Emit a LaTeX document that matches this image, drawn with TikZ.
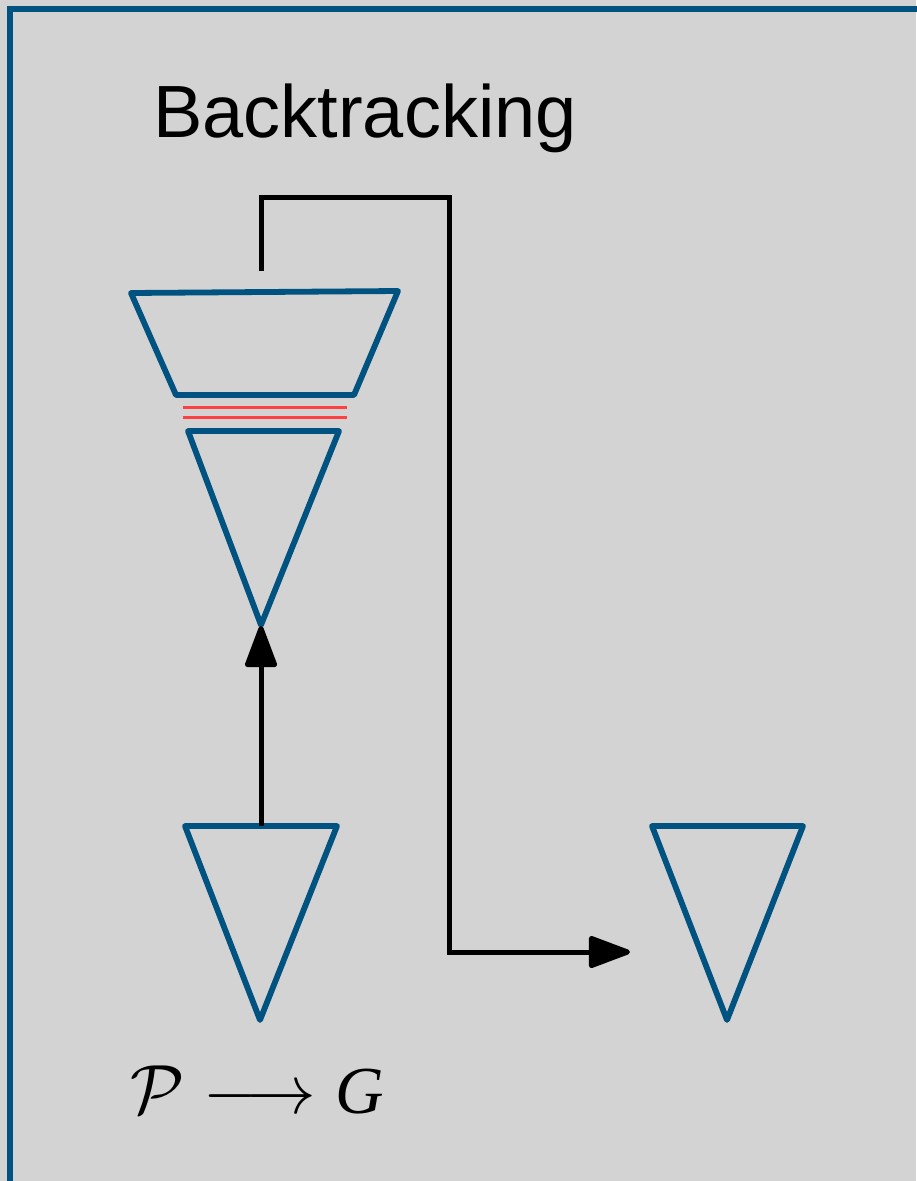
\documentclass[tikz,border=0pt]{standalone}
\usepackage{fontspec}
\setsansfont{Liberation Sans}
\newfontfamily\timeslike{Liberation Serif}
\usetikzlibrary{arrows.meta}
\definecolor{bg}{RGB}{211,211,211}
\definecolor{frameblue}{RGB}{0,82,128}
\definecolor{sepred}{RGB}{255,64,64}
\tikzset{
  shape line/.style={draw=frameblue, line width=5.8pt, line join=round},
  flow/.style={draw=black, line width=5pt, line join=miter,
    -{Triangle[length=46pt,width=33pt,round]}},
  seam/.style={draw=sepred, line width=3pt},
}
\begin{document}
\begin{tikzpicture}[x=1pt,y=-1pt]
  % canvas
  \fill[bg] (0,0) rectangle (916,1181);
  \useasboundingbox (0,0) rectangle (916,1181);
  % outer frame (open to the right and bottom)
  \draw[frameblue, line width=6pt, line join=miter] (10,1190) -- (10,9) -- (930,9);

  % title
  \node[font=\sffamily\fontsize{74}{80}\selectfont, anchor=base west, inner sep=0pt]
    (title) at (153,137) {Backtracking};

  % encoder trapezoid
  \path[shape line] (131,293) -- (398,291) -- (354,395) -- (176,395) -- cycle;
  \coordinate (enctop) at (261,271);
  % separator lines
  \draw[seam] (183,407) -- (347,407);
  \draw[seam] (183,417) -- (347,417);
  % decoder triangle
  \path[shape line] (188,431) -- (339,431) -- (261,625) -- cycle;
  \coordinate (decapex) at (261,626);

  % lower-left triangle
  \path[shape line] (185,826) -- (337,826) -- (260,1020) -- cycle;
  \coordinate (lltop) at (261,826);
  % lower-right triangle
  \path[shape line] (652,826) -- (803,826) -- (727,1020) -- cycle;
  \coordinate (target) at (630,952);

  % connectors
  \draw[flow] (lltop) -- (decapex);
  \draw[flow] (enctop) -- (261,197) -- (449,197) -- (449,952) -- (target);

  % mapping label
  \node[inner sep=0pt] (map) at (257,1090)
    {\scalebox{2.8}{\fontsize{24}{28}\selectfont$\mathcal{P}\longrightarrow
      \hbox{\timeslike\itshape G}$}};
\end{tikzpicture}
\end{document}
